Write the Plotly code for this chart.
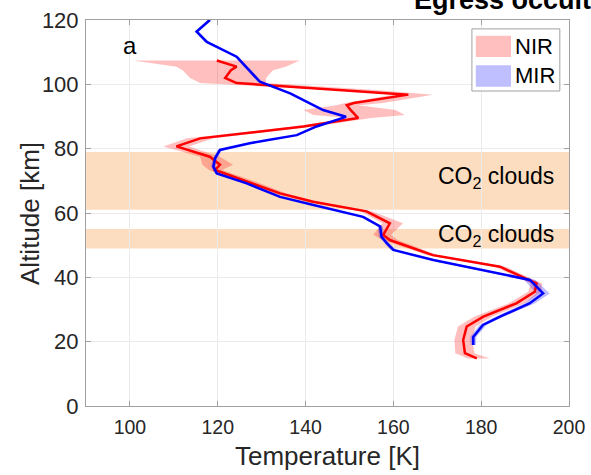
import plotly.graph_objects as go

# ---------------- data ----------------
# NIR (red) profile with uncertainty envelope
nir_alt = [107.4, 105.5, 104.4, 102.0, 100.4, 98.2, 96.8, 94.2, 93.5, 92.0, 90.5, 89.5, 86.9, 83.2,
           80.7, 77.5, 75.0, 73.4, 69.8, 66.1, 63.5, 60.5, 56.8, 53.2, 51.6, 46.9, 43.3, 38.1,
           35.5, 31.9, 27.8, 24.7, 20.5, 16.4, 14.8]
nir_T = [119.8, 124.3, 123.0, 121.7, 124.3, 148.0, 163.4, 151.0, 149.4, 150.3, 151.3, 152.0, 139.5, 116.0,
         110.6, 118.2, 120.5, 119.4, 126.6, 134.2, 141.7, 153.9, 159.2, 157.7, 159.2, 169.0, 184.3, 192.6,
         192.2, 188.0, 180.5, 176.7, 175.9, 176.3, 179.0]
nir_lo = [100.8, 110.6, 112.0, 113.7, 116.0, 146.0, 160.0, 149.0, 147.0, 139.5, 141.8, 150.0, 137.5, 113.0,
          107.6, 116.0, 116.5, 118.0, 125.0, 132.7, 140.4, 152.6, 157.5, 155.4, 157.5, 167.8, 183.1, 191.3,
          190.7, 186.2, 178.5, 174.7, 173.9, 174.1, 177.0]
nir_hi = [138.7, 135.5, 132.6, 131.0, 131.0, 156.0, 169.0, 157.7, 152.0, 160.5, 162.6, 155.0, 142.0, 119.0,
          113.5, 120.5, 123.5, 121.0, 128.5, 135.7, 143.0, 155.2, 162.2, 159.5, 161.0, 170.2, 185.5, 193.9,
          193.7, 189.8, 182.5, 178.7, 177.9, 178.5, 182.0]

# MIR (blue) profile with uncertainty envelope
mir_alt = [120.0, 116.4, 113.2, 108.6, 100.8, 97.2, 92.0, 89.9, 86.9, 84.2, 82.7, 81.7, 79.6, 77.0,
           74.4, 72.3, 69.2, 65.0, 62.5, 58.8, 55.8, 52.6, 50.6, 48.5, 45.4, 42.3, 39.2, 35.0,
           31.9, 27.8, 25.2, 21.5, 19.0]
mir_T = [118.2, 115.2, 117.5, 124.3, 129.6, 136.5, 144.0, 149.2, 142.5, 138.0, 131.5, 127.3, 120.5, 119.4,
         119.0, 119.8, 126.6, 134.2, 141.8, 153.1, 157.0, 157.3, 158.5, 160.0, 169.1, 180.4, 191.1, 194.1,
         191.0, 184.3, 180.4, 178.2, 178.2]
mir_err = [0.5, 0.5, 0.5, 0.5, 0.5, 0.5, 0.5, 0.5, 0.5, 0.5, 0.5, 0.5, 0.5, 0.5,
           0.5, 0.5, 0.5, 0.5, 0.5, 0.6, 0.6, 0.6, 0.6, 0.7, 0.8, 1.0, 1.3, 1.5,
           1.2, 0.9, 0.8, 0.7, 0.6]

# CO2 cloud layers (bottom, top altitude in km)
cloud_layers = [(61.0, 79.0), (49.0, 55.0)]
cloud_label_alt = [71.0, 53.0]

x_ticks = [100, 120, 140, 160, 180, 200]
y_ticks = [0, 20, 40, 60, 80, 100, 120]

FONT = "Arial, Liberation Sans, Helvetica, sans-serif"
TXT = "#262626"
AX = "#A0A0A0"

fig = go.Figure()

# cloud layers
for (b, t) in cloud_layers:
    fig.add_shape(type="rect", xref="paper", yref="y", x0=0, x1=1, y0=b, y1=t,
                  fillcolor="rgb(253,221,192)", line_width=0, layer="below")

# NIR envelope
fig.add_trace(go.Scatter(
    x=nir_hi + nir_lo[::-1], y=nir_alt + nir_alt[::-1],
    fill="toself", fillcolor="rgba(255,0,0,0.25)", line=dict(width=0),
    mode="lines", hoverinfo="skip", showlegend=False, name="NIR"))
# MIR envelope
mir_hi = [t + e for t, e in zip(mir_T, mir_err)]
mir_lo = [t - e for t, e in zip(mir_T, mir_err)]
fig.add_trace(go.Scatter(
    x=mir_hi + mir_lo[::-1], y=mir_alt + mir_alt[::-1],
    fill="toself", fillcolor="rgba(0,0,255,0.25)", line=dict(width=0),
    mode="lines", hoverinfo="skip", showlegend=False, name="MIR"))

# lines
fig.add_trace(go.Scatter(x=nir_T, y=nir_alt, mode="lines",
                         line=dict(color="#FF0000", width=2.5), showlegend=False))
fig.add_trace(go.Scatter(x=mir_T, y=mir_alt, mode="lines",
                         line=dict(color="#0000FF", width=2.5), showlegend=False))

# cloud labels
for a in cloud_label_alt:
    fig.add_annotation(x=197, y=a, xref="x", yref="y", text="CO<sub>2</sub> clouds",
                       showarrow=False, xanchor="right", yanchor="middle",
                       font=dict(family=FONT, size=23, color="black"))

# panel letter
fig.add_annotation(x=100, y=112, xref="x", yref="y", text="a", showarrow=False,
                   xanchor="center", yanchor="middle", font=dict(family=FONT, size=24, color="black"))

# clipped title at top
fig.add_annotation(x=0.674, y=1.0, xref="paper", yref="paper", text="<b>Egress occultation</b>",
                   showarrow=False, xanchor="left", yanchor="bottom", yshift=3,
                   font=dict(family=FONT, size=27, color="black"))

# y-axis title
fig.add_annotation(x=-0.116, y=0.5, xref="paper", yref="paper", text="Altitude [km]",
                   showarrow=False, textangle=-90, xanchor="center", yanchor="middle",
                   font=dict(family=FONT, size=26, color=TXT))

# legend (box + patches + labels)
fig.add_shape(type="rect", xref="paper", yref="paper", x0=0.799, x1=0.981, y0=0.816, y1=0.977,
              fillcolor="white", line=dict(color="#A0A0A0", width=1), layer="above")
fig.add_shape(type="rect", xref="paper", yref="paper", x0=0.807, x1=0.880, y0=0.904, y1=0.959,
              fillcolor="rgb(255,191,191)", line_width=0, layer="above")
fig.add_shape(type="rect", xref="paper", yref="paper", x0=0.807, x1=0.880, y0=0.827, y1=0.883,
              fillcolor="rgb(191,191,255)", line_width=0, layer="above")
for name, yc in [("NIR", 0.932), ("MIR", 0.855)]:
    fig.add_annotation(x=0.884, y=yc, xref="paper", yref="paper", text=name, showarrow=False,
                       xanchor="left", yanchor="middle", font=dict(family=FONT, size=22, color="black"))

axis_common = dict(showline=True, linecolor=AX, linewidth=1, mirror="ticks",
                   ticks="inside", ticklen=5, tickcolor=AX, showgrid=True,
                   gridcolor="#EBEBEB", gridwidth=1, zeroline=False, automargin=False)

fig.update_xaxes(range=[90, 200], tickvals=x_ticks, ticklabelstandoff=4,
                 tickfont=dict(family=FONT, size=19.5, color=TXT),
                 title=dict(text="Temperature [K]", font=dict(family=FONT, size=26, color=TXT), standoff=9),
                 **axis_common)
fig.update_yaxes(range=[0, 120], tickvals=y_ticks, ticklabelstandoff=2,
                 tickfont=dict(family=FONT, size=22, color=TXT),
                 **axis_common)

fig.update_layout(width=591, height=475, margin=dict(l=86, r=22, t=20, b=69, autoexpand=False),
                  paper_bgcolor="white", plot_bgcolor="white", showlegend=False)

fig.write_html("out.html", config={"displayModeBar": False},
               post_script="document.body.style.margin='0px';")
